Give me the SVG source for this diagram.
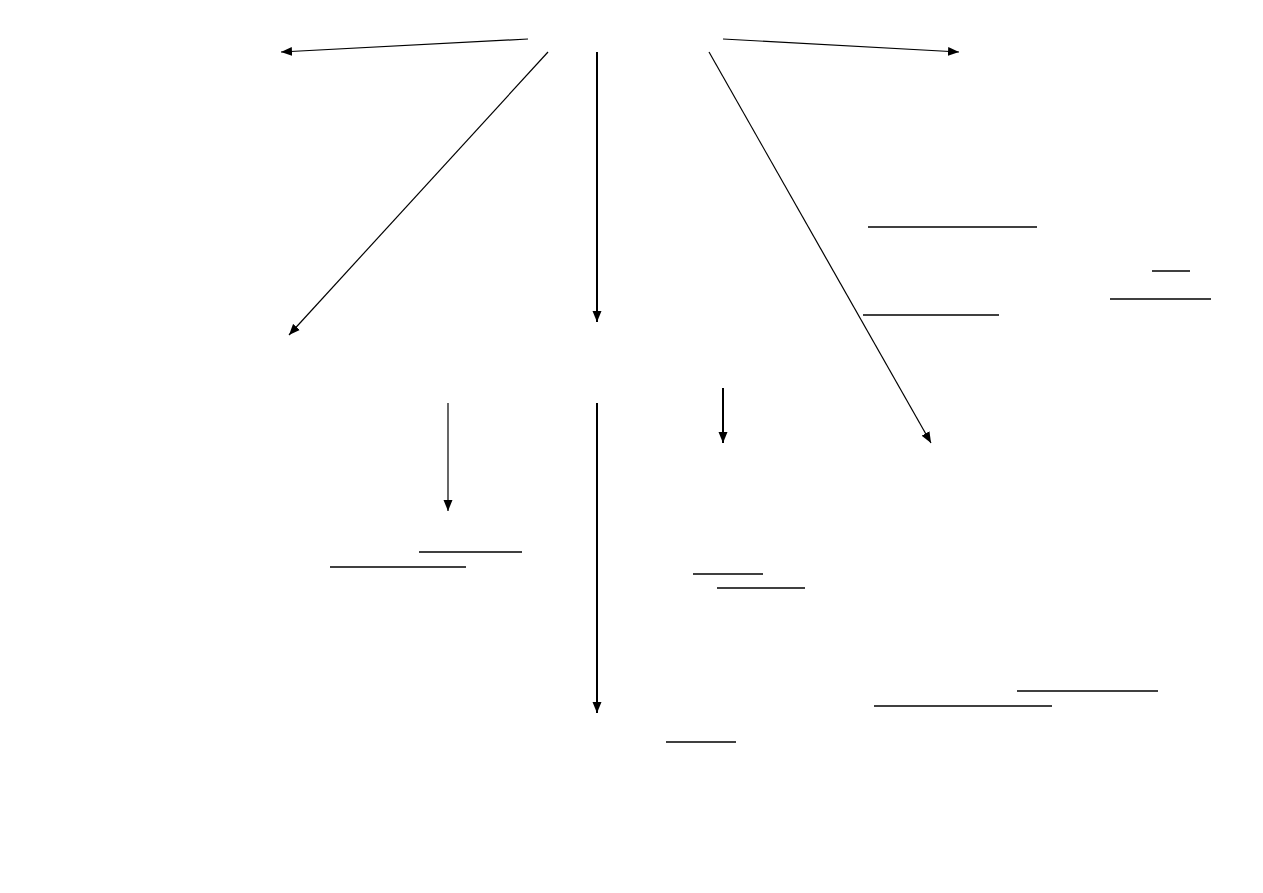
<svg xmlns="http://www.w3.org/2000/svg" width="1263" height="893" viewBox="0 0 1263 893">
<defs>
<style>
.c{stroke:#000;fill:none}
.t{stroke-width:1.2}
.k{stroke-width:2}
.u{stroke:#000;stroke-width:1.3}
</style>
<marker id="ah" markerUnits="userSpaceOnUse" markerWidth="12" markerHeight="10" refX="11" refY="4.5" orient="auto" viewBox="0 0 12 9">
<path d="M0,0 L11,4.5 L0,9 Z" fill="#000"/>
</marker>
</defs>
<rect width="1263" height="893" fill="#fff"/>
<g id="connectors">
<line class="c t" x1="528" y1="39" x2="281" y2="52" marker-end="url(#ah)"/>
<line class="c t" x1="548" y1="52" x2="289" y2="335" marker-end="url(#ah)"/>
<line class="c k" x1="597" y1="52" x2="597" y2="322" marker-end="url(#ah)"/>
<line class="c t" x1="723" y1="39" x2="959" y2="52" marker-end="url(#ah)"/>
<line class="c t" x1="709" y1="52" x2="931" y2="443" marker-end="url(#ah)"/>
<line class="c t" x1="448" y1="403" x2="448" y2="511" marker-end="url(#ah)"/>
<line class="c k" x1="597" y1="403" x2="597" y2="713" marker-end="url(#ah)"/>
<line class="c k" x1="723" y1="388" x2="723" y2="443" marker-end="url(#ah)"/>
</g>
<g id="underlines">
<line class="u" x1="868" y1="227" x2="1037" y2="227"/>
<line class="u" x1="1152" y1="271" x2="1190" y2="271"/>
<line class="u" x1="1110" y1="299" x2="1211" y2="299"/>
<line class="u" x1="863" y1="315" x2="999" y2="315"/>
<line class="u" x1="419" y1="552" x2="522" y2="552"/>
<line class="u" x1="330" y1="567" x2="466" y2="567"/>
<line class="u" x1="693" y1="574" x2="763" y2="574"/>
<line class="u" x1="717" y1="588" x2="805" y2="588"/>
<line class="u" x1="1017" y1="691" x2="1158" y2="691"/>
<line class="u" x1="874" y1="706" x2="1052" y2="706"/>
<line class="u" x1="666" y1="742" x2="736" y2="742"/>
</g>
</svg>
